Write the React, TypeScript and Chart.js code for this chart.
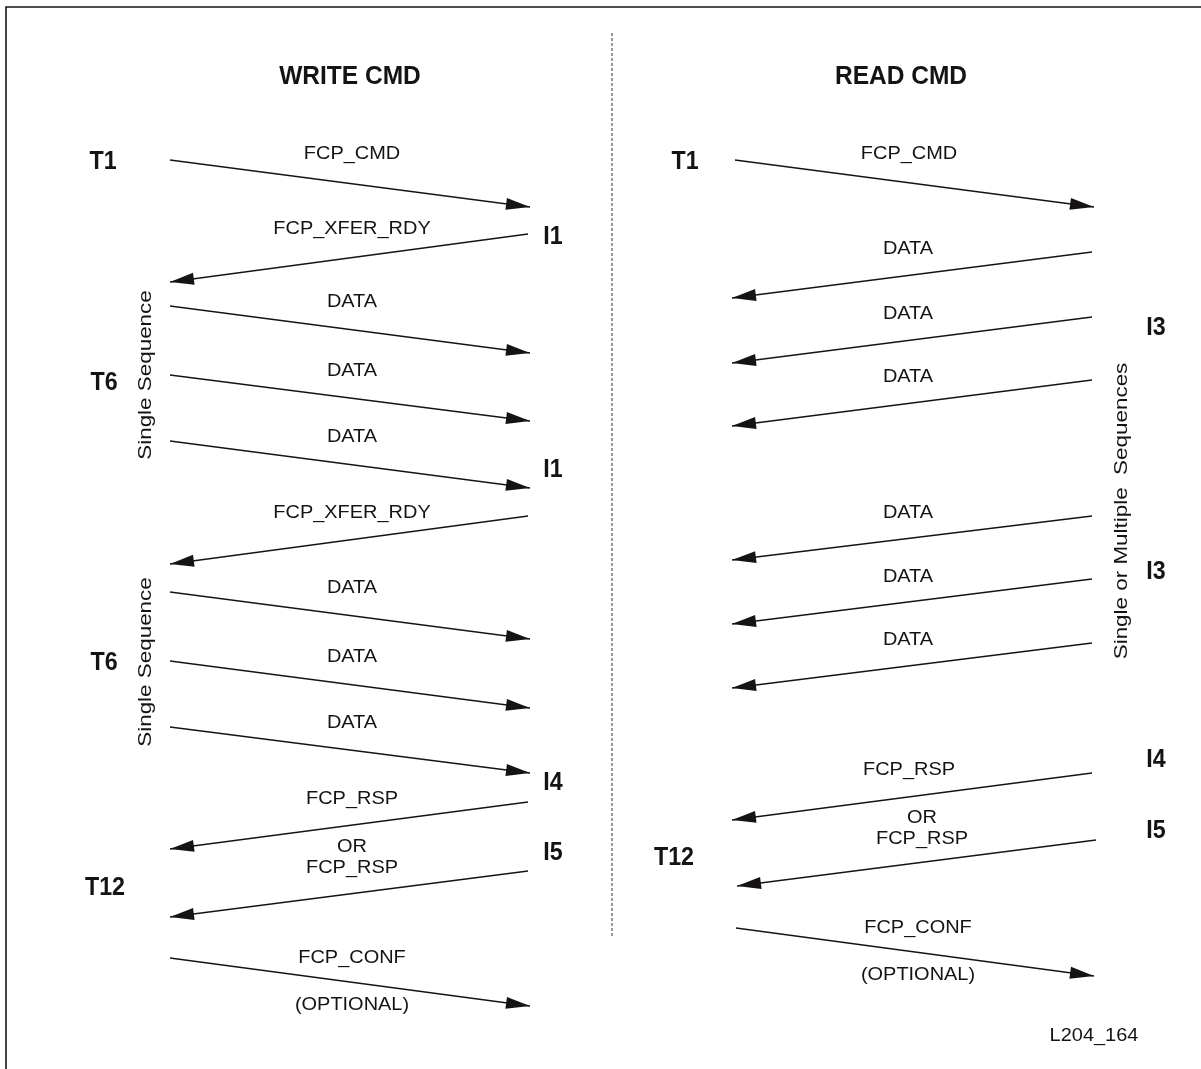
import React, { useEffect, useRef } from "react";
import { Chart, registerables } from "chart.js";

Chart.register(...registerables);

// ---- Diagram extent ----
const VIEW_W = 1201;
const VIEW_H = 1069;

// ---- Message arrows (start -> end, arrowhead at end) ----
// left panel: WRITE CMD, right panel: READ CMD
const arrowFromX = [170, 528, 170, 170, 170, 528, 170, 170, 170, 528, 528, 170, 735, 1092, 1092, 1092, 1092, 1092, 1092, 1092, 1096, 736];
const arrowFromY = [160, 234, 306, 375, 441, 516, 592, 661, 727, 802, 871, 958, 160, 252, 317, 380, 516, 579, 643, 773, 840, 928];
const arrowToX = [530, 170, 530, 530, 530, 170, 530, 530, 530, 170, 170, 530, 1094, 732, 732, 732, 732, 732, 732, 732, 737, 1094];
const arrowToY = [207, 282, 353, 421, 488, 564, 639, 708, 773, 849, 917, 1006, 207, 298, 363, 426, 560, 624, 688, 820, 886, 976];

// ---- Message labels ----
const msgLabels = [
  "FCP_CMD", "FCP_XFER_RDY", "DATA", "DATA", "DATA", "FCP_XFER_RDY", "DATA", "DATA", "DATA",
  "FCP_RSP", "OR", "FCP_RSP", "FCP_CONF", "(OPTIONAL)",
  "FCP_CMD", "DATA", "DATA", "DATA", "DATA", "DATA", "DATA",
  "FCP_RSP", "OR", "FCP_RSP", "FCP_CONF", "(OPTIONAL)", "L204_164",
];
const msgLabelX = [
  352, 352, 352, 352, 352, 352, 352, 352, 352,
  352, 352, 352, 352, 352,
  909, 908, 908, 908, 908, 908, 908,
  909, 922, 922, 918, 918, 1094,
];
const msgLabelY = [
  154, 229, 302, 371, 437, 513, 588, 657, 723,
  799, 847, 868, 958, 1005,
  154, 249, 314, 377, 513, 577, 640,
  770, 818, 839, 928, 975, 1036,
];

// ---- Node (state) labels ----
const nodeLabels = ["T1", "I1", "T6", "I1", "T6", "I4", "I5", "T12", "T1", "I3", "I3", "I4", "I5", "T12"];
const nodeX = [103, 553, 104, 553, 104, 553, 553, 105, 685, 1156, 1156, 1156, 1156, 674];
const nodeY = [162, 237, 383, 470, 663, 783, 853, 888, 162, 328, 572, 760, 831, 858];

// ---- Panel titles ----
const titleLabels = ["WRITE CMD", "READ CMD"];
const titleX = [350, 901];
const titleY = [77, 77];

// ---- Vertical bracket texts ----
const sideLabels = ["Single Sequence", "Single Sequence", "Single or Multiple  Sequences"];
const sideX = [146, 146, 1122];
const sideY = [375, 662, 511];

// ---- Frame and divider ----
const frameX = [6, 6, 1201];
const frameY = [1069, 7, 7];
const dividerX = [612, 612];
const dividerY = [33, 937];

const INK = "#161314";
const FONT = "'Liberation Sans', Arial, Helvetica, sans-serif";

const diagramPlugin = {
  id: "diagramDecor",
  afterDatasetsDraw(chart: any) {
    const { ctx, scales } = chart;
    const sx = scales.x;
    const sy = scales.y;

    // arrowheads
    chart.data.datasets.forEach((ds: any, i: number) => {
      if (!ds.isArrow) return;
      const pts = chart.getDatasetMeta(i).data;
      const a = pts[0];
      const b = pts[1];
      const ang = Math.atan2(b.y - a.y, b.x - a.x);
      const len = 24;
      const half = 6;
      ctx.save();
      ctx.translate(b.x, b.y);
      ctx.rotate(ang);
      ctx.beginPath();
      ctx.moveTo(0, 0);
      ctx.lineTo(-len, -half);
      ctx.lineTo(-len, half);
      ctx.closePath();
      ctx.fillStyle = INK;
      ctx.fill();
      ctx.restore();
    });

    const draw = (t: string, px: number, py: number, font: string, stretch: number, rot: number) => {
      ctx.save();
      ctx.translate(sx.getPixelForValue(px), sy.getPixelForValue(py));
      if (rot) ctx.rotate(rot);
      ctx.scale(stretch, 1);
      ctx.font = font;
      ctx.fillStyle = INK;
      ctx.textAlign = "center";
      ctx.textBaseline = "middle";
      ctx.fillText(t, 0, 0);
      ctx.restore();
    };

    msgLabels.forEach((t, i) => draw(t, msgLabelX[i], msgLabelY[i], `19px ${FONT}`, 1.05, 0));
    nodeLabels.forEach((t, i) => draw(t, nodeX[i], nodeY[i], `bold 25px ${FONT}`, 0.93, 0));
    titleLabels.forEach((t, i) => draw(t, titleX[i], titleY[i], `bold 25px ${FONT}`, 0.98, 0));
    sideLabels.forEach((t, i) => draw(t, sideX[i], sideY[i], `19px ${FONT}`, 1.18, -Math.PI / 2));
  },
};

export default function App() {
  const ref = useRef<HTMLCanvasElement | null>(null);

  useEffect(() => {
    document.body.style.margin = "0";
    document.body.style.background = "#ffffff";
    const canvas = ref.current;
    if (!canvas) return;

    const arrowSets = arrowFromX.map((_, i) => ({
      isArrow: true,
      data: [
        { x: arrowFromX[i], y: arrowFromY[i] },
        { x: arrowToX[i], y: arrowToY[i] },
      ],
      showLine: true,
      borderColor: INK,
      borderWidth: 1.3,
      pointRadius: 0,
      clip: false,
    }));

    const frameSet = {
      data: frameX.map((x, i) => ({ x, y: frameY[i] })),
      showLine: true,
      borderColor: INK,
      borderWidth: 1.6,
      pointRadius: 0,
      clip: false,
    };

    const dividerSet = {
      data: dividerX.map((x, i) => ({ x, y: dividerY[i] })),
      showLine: true,
      borderColor: "#333333",
      borderWidth: 1,
      borderDash: [3, 2],
      pointRadius: 0,
      clip: false,
    };

    const chart = new Chart(canvas, {
      type: "scatter",
      data: { datasets: [frameSet, dividerSet, ...arrowSets] as any },
      options: {
        responsive: false,
        animation: false,
        devicePixelRatio: 1,
        events: [],
        layout: { padding: 0 },
        plugins: { legend: { display: false }, tooltip: { enabled: false } },
        scales: {
          x: { type: "linear", min: 0, max: VIEW_W, display: false },
          y: { type: "linear", min: 0, max: VIEW_H, reverse: true, display: false },
        },
      },
      plugins: [diagramPlugin],
    });

    return () => chart.destroy();
  }, []);

  return (
    <div style={{ width: VIEW_W, height: VIEW_H, background: "#ffffff" }}>
      <canvas ref={ref} width={VIEW_W} height={VIEW_H} style={{ display: "block" }} />
    </div>
  );
}
